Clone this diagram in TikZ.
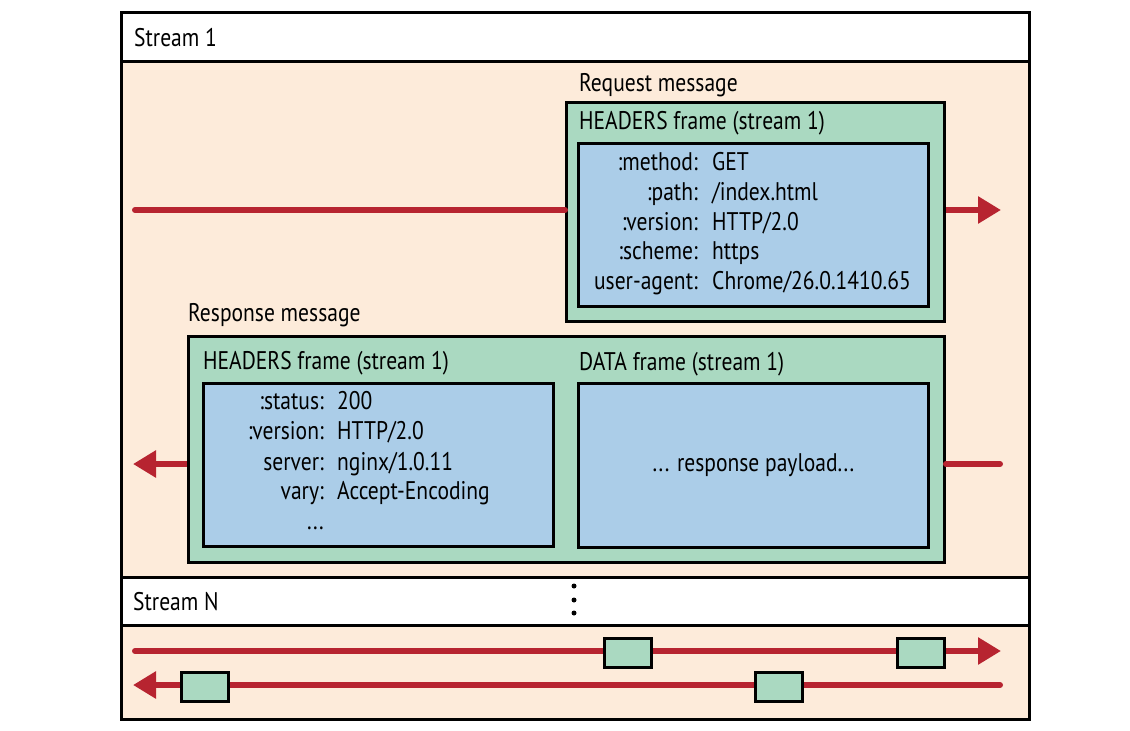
\documentclass[tikz,border=0pt]{standalone}
\usepackage{fontspec}
\setmainfont{PT Sans}[FakeStretch=0.845]
\usetikzlibrary{arrows.meta}
\definecolor{peach}{RGB}{253,235,218}
\definecolor{frgreen}{RGB}{170,217,193}
\definecolor{hdrblue}{RGB}{171,205,232}
\definecolor{flowred}{RGB}{183,36,48}
\begin{document}
\begin{tikzpicture}[x=1pt,y=-1pt,
  band/.style={draw=black,line width=3pt,inner sep=0pt,anchor=north west,minimum width=908pt},
  frame/.style={draw=black,line width=3pt,fill=frgreen,inner sep=0pt,anchor=north west},
  hbox/.style={draw=black,line width=3pt,fill=hdrblue,inner sep=0pt,anchor=north west,font=\fontsize{25.5}{30}\selectfont},
  pkt/.style={draw=black,line width=2.6pt,fill=frgreen,inner sep=0pt,anchor=north west,minimum width=47pt,minimum height=29pt},
  lbl/.style={inner sep=0pt,font=\fontsize{25.5}{30}\selectfont,anchor=base west},
  key/.style={inner sep=0pt,font=\fontsize{25.5}{30}\selectfont,anchor=base east},
  flow/.style={draw=flowred,line width=6pt},
  tip/.style={-{Triangle[length=23pt,width=26pt]}},
  dotm/.style={circle,fill=black,inner sep=0pt,minimum size=5pt}
]
\useasboundingbox (0,0) rectangle (1130,731);
% stream bands
\node[band,fill=white,minimum height=49pt] (s1head) at (120,11) {};
\node[band,fill=peach,minimum height=516pt] (s1body) at (120,60) {};
\node[band,fill=white,minimum height=48pt] (snhead) at (120,576) {};
\node[band,fill=peach,minimum height=94pt] (snbody) at (120,624) {};
\node[lbl] (t1) at (134,46) {Stream 1};
\node[lbl] (tn) at (133,610) {Stream N};
\node[dotm] (d1) at (574,586) {};
\node[dotm] (d2) at (574,600) {};
\node[dotm] (d3) at (574,613) {};

% request message
\node[lbl] (reqlbl) at (579,91) {Request message};
\node[frame,minimum width=378pt,minimum height=219pt] (req) at (565,101) {};
\node[lbl] (reqtitle) at (579,129) {HEADERS frame (stream 1)};
\node[hbox,minimum width=350pt,minimum height=163pt] (reqh) at (577,142) {};
\node[key] (k1) at (698,170) {:method:};
\node[lbl] (v1) at (712,170) {GET};
\node[key] (k2) at (698,200) {:path:};
\node[lbl] (v2) at (712,200) {/index.html};
\node[key] (k3) at (698,230) {:version:};
\node[lbl] (v3) at (712,230) {HTTP/2.0};
\node[key] (k4) at (698,259) {:scheme:};
\node[lbl] (v4) at (712,259) {https};
\node[key] (k5) at (698,289) {user-agent:};
\node[lbl] (v5) at (712,289) {Chrome/26.0.1410.65};

\coordinate (reqstart) at (135,210);
\coordinate (reqend) at (1001,210);
\draw[flow,line cap=round] (reqstart) -- (reqstart -| req.west);
\draw[flow,tip] (reqstart -| req.east) -- (reqend);

% response message
\node[lbl] (resplbl) at (188,321) {Response message};
\node[frame,minimum width=756pt,minimum height=226pt] (resp) at (187,335) {};
\node[lbl] (resptitle) at (203,369) {HEADERS frame (stream 1)};
\node[lbl] (datatitle) at (579,370) {DATA frame (stream 1)};
\node[hbox,minimum width=350pt,minimum height=163pt] (resph) at (202,382) {};
\node[hbox,minimum width=350pt,minimum height=164pt] (data) at (577,382) {... response payload...};
\node[key] (r1) at (324,409) {:status:};
\node[lbl] (w1) at (337,409) {200};
\node[key] (r2) at (324,439) {:version:};
\node[lbl] (w2) at (337,439) {HTTP/2.0};
\node[key] (r3) at (324,470) {server:};
\node[lbl] (w3) at (337,470) {nginx/1.0.11};
\node[key] (r4) at (324,499) {vary:};
\node[lbl] (w4) at (337,499) {Accept-Encoding};
\node[key] (r5) at (324,529) {...};

\coordinate (respstart) at (1000,464);
\coordinate (respend) at (133,464);
\draw[flow,line cap=round] (respstart) -- (respstart -| resp.east);
\draw[flow,tip] (respend -| resp.west) -- (respend);

% stream N flows
\coordinate (upstart) at (135,651);
\coordinate (upend) at (1001,651);
\coordinate (lostart) at (1000,685);
\coordinate (loend) at (133,685);
\draw[flow,line cap=round,tip] (upstart) -- (upend);
\draw[flow,line cap=round,tip] (lostart) -- (loend);
\node[pkt] (p1) at (603,637) {};
\node[pkt] (p2) at (896,637) {};
\node[pkt] (p3) at (180,671) {};
\node[pkt] (p4) at (754,671) {};
\end{tikzpicture}
\end{document}
